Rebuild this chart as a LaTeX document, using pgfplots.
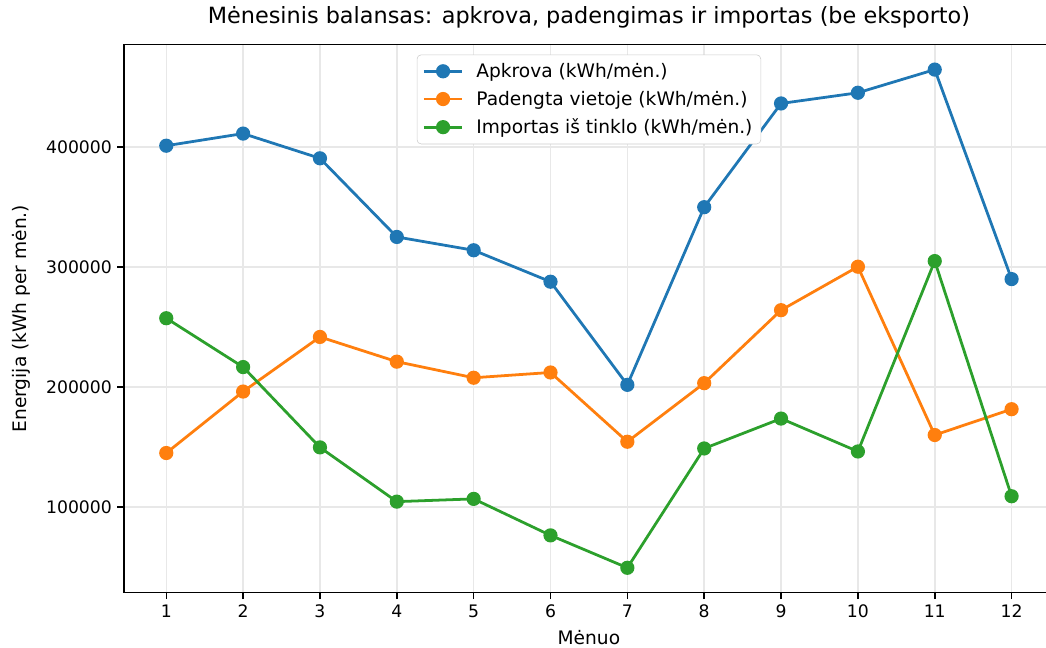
\documentclass[border=0pt]{standalone}
\usepackage{fontspec}
\setmainfont{DejaVu Sans}
\usepackage{pgfplots}
\pgfplotsset{compat=1.18}
\definecolor{tabblue}{HTML}{1F77B4}
\definecolor{taborange}{HTML}{FF7F0E}
\definecolor{tabgreen}{HTML}{2CA02C}
\begin{document}
\begin{tikzpicture}
\begin{axis}[
  at={(0,0)}, anchor=south west,
  scale only axis,
  width=669.5pt, height=394.56pt,
  xmin=0.45, xmax=12.55,
  ymin=28650, ymax=485150,
  xtick={1,2,3,4,5,6,7,8,9,10,11,12},
  ytick={100000,200000,300000,400000},
  yticklabels={100000,200000,300000,400000},
  scaled y ticks=false,
  /pgf/number format/assume math mode=true,
  tick align=outside,
  xtick pos=lower, ytick pos=left,
  major tick length=4.7pt,
  tick style={line width=1.1pt, black},
  axis line style={line width=1.1pt, black},
  tick label style={font=\fontsize{12.4}{15}\selectfont},
  xticklabel style={yshift=-0.5pt},
  yticklabel style={xshift=-0.5pt},
  grid=major,
  grid style={line width=1.1pt, black!9},
  title={Mėnesinis balansas: apkrova, padengimas ir importas (be eksporto)},
  title style={font=\fontsize{16.1}{19}\selectfont, at={(0.5,1)}, anchor=base, yshift=9.1pt, inner sep=0pt},
  xlabel={Mėnuo},
  ylabel={Energija (kWh per mėn.)},
  xlabel style={font=\fontsize{13.4}{16}\selectfont, at={(0.5,0)}, anchor=base, yshift=-37.2pt, inner sep=0pt},
  ylabel style={font=\fontsize{13.4}{16}\selectfont, at={(0,0.5)}, anchor=base, yshift=70.2pt, inner sep=0pt},
  legend style={at={(0.5,0.982)}, anchor=north, draw=black!20, rounded corners=3pt,
    font=\fontsize{13.4}{16}\selectfont, inner xsep=4pt, inner ysep=4pt, row sep=4.3pt,
    /tikz/every odd column/.append style={column sep=7.2pt}},
  legend cell align=left,
  legend image code/.code={\draw[#1, mark=none] (0pt,0pt) -- (27.5pt,0pt);
    \draw[#1, only marks] plot coordinates {(13.75pt,0pt)};},
]
\addplot[tabblue, line width=2pt, mark=*, mark size=4.1pt] coordinates {
(1,401000) (2,411100) (3,390500) (4,325000) (5,313900) (6,287700)
(7,201800) (8,349800) (9,436200) (10,445100) (11,464400) (12,289900)};
\addlegendentry{Apkrova (kWh/mėn.)}
\addplot[taborange, line width=2pt, mark=*, mark size=4.1pt] coordinates {
(1,145000) (2,196200) (3,241700) (4,221100) (5,207700) (6,212100)
(7,154400) (8,203200) (9,264000) (10,300200) (11,160000) (12,181500)};
\addlegendentry{Padengta vietoje (kWh/mėn.)}
\addplot[tabgreen, line width=2pt, mark=*, mark size=4.1pt] coordinates {
(1,257300) (2,216600) (3,149700) (4,104500) (5,106800) (6,76400)
(7,49400) (8,148800) (9,173700) (10,146300) (11,304900) (12,109000)};
\addlegendentry{Importas iš tinklo (kWh/mėn.)}
\end{axis}
\pgfresetboundingbox
\path (-89.28pt,-39.8pt) rectangle (663.84pt,426.74pt);
\end{tikzpicture}
\end{document}
